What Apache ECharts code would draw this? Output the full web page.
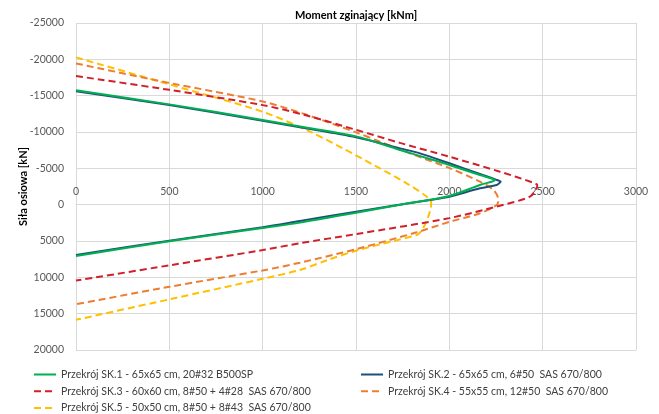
<!DOCTYPE html>
<html>
<head>
<meta charset="utf-8">
<script src="https://cdn.jsdelivr.net/npm/echarts@6/dist/echarts.min.js"></script>
<style>html,body{margin:0;padding:0;background:#fff}#c{width:659px;height:414px}</style>
</head>
<body>
<div id="c"></div>
<script>
// Moment [kNm] / axial force [kN]
const names = [
  'Przekrój SK.1 - 65x65 cm, 20#32 B500SP',
  'Przekrój SK.2 - 65x65 cm, 6#50  SAS 670/800',
  'Przekrój SK.3 - 60x60 cm, 8#50 + 4#28  SAS 670/800',
  'Przekrój SK.4 - 55x55 cm, 12#50  SAS 670/800',
  'Przekrój SK.5 - 50x50 cm, 8#50 + 8#43  SAS 670/800'
];
const sk1M = [0, 500, 1000, 1200, 1500, 1736, 1900, 2000, 2164, 2227, 2245, 2227, 2164, 2000, 1736, 1500, 1200, 1000, 500, 0];
const sk1N = [-15750, -13800, -11650, -10750, -9400, -7520, -6250, -5460, -4080, -3600, -3350, -3160, -2710, -1200, 0, 1100, 2470, 3200, 5050, 7050];
const sk2M = [0, 500, 1000, 1200, 1500, 1736, 1843, 2000, 2164, 2250, 2275, 2265, 2254, 2164, 2000, 1896, 1500, 1200, 1000, 500, 0];
const sk2N = [-15600, -13710, -11550, -10640, -9270, -7750, -7060, -5690, -4220, -3450, -3150, -2900, -2710, -2250, -1100, -650, 960, 2250, 3110, 4950, 6920];
const sk3M = [0, 500, 1000, 1232, 1500, 1736, 2000, 2271, 2449, 2471, 2468, 2432, 2254, 2000, 1500, 1200, 1000, 500, 0];
const sk3N = [-17700, -15800, -13700, -12300, -10300, -8500, -6600, -4540, -3030, -2700, -2250, -1100, 250, 1850, 4050, 5300, 6250, 8350, 10450];
const sk4M = [0, 500, 1000, 1232, 1500, 1629, 1789, 2004, 2164, 2236, 2263, 2254, 2164, 2004, 1825, 1504, 1200, 1000, 500, 0];
const sk4N = [-19440, -16750, -14200, -12400, -9950, -8660, -7060, -5000, -3160, -2020, -650, 40, 1190, 2340, 3800, 6100, 7980, 9050, 11300, 13700];
const sk5M = [0, 500, 1000, 1254, 1430, 1611, 1771, 1879, 1903, 1900, 1885, 1860, 1830, 1700, 1504, 1350, 1200, 1000, 500, 0];
const sk5N = [-20270, -16550, -12790, -10040, -7750, -5230, -2940, -1100, -300, 500, 1800, 3200, 4100, 5000, 6300, 7600, 8980, 10200, 13030, 15850];
const xTicks = { min: 0, max: 3000, step: 500 };
const yTicks = { min: -25000, max: 20000, step: 5000 };

const colors = ['#00B050', '#1F4E79', '#D0202A', '#ED7D31', '#FFC000'];
const Ms = [sk1M, sk2M, sk3M, sk4M, sk5M];
const Ns = [sk1N, sk2N, sk3N, sk4N, sk5N];
const dashed = [false, false, true, true, true];
const FONT = 'Lato';

const series = names.map((n, i) => ({
  name: n,
  type: 'line',
  data: Ms[i].map((m, k) => [m, Ns[i][k]]),
  smooth: 0.3,
  symbol: 'none',
  z: 10 - i,
  lineStyle: { color: colors[i], width: 2, type: dashed[i] ? [7, 4] : 'solid' },
  itemStyle: { color: colors[i] }
}));

const legendCommon = {
  orient: 'vertical',
  padding: 0,
  itemWidth: 22,
  itemHeight: 12,
  itemGap: 5.7,
  height: 60,
  itemStyle: { opacity: 0 },
  textStyle: { fontFamily: FONT, fontSize: 10.5, color: '#404040' },
  selectedMode: false
};

const plain = v => String(v);

const chart = echarts.init(document.getElementById('c'));
chart.setOption({
  animation: false,
  color: colors,
  title: {
    text: 'Moment zginający [kNm]',
    left: 351, top: 5, textAlign: 'center',
    textStyle: { fontFamily: FONT, fontSize: 11, fontWeight: 'bold', color: '#000' }
  },
  grid: { left: 76, right: 23, top: 23, bottom: 64, containLabel: false },
  xAxis: {
    type: 'value', min: xTicks.min, max: xTicks.max, interval: xTicks.step,
    position: 'top',
    axisLine: { show: true, onZero: false, lineStyle: { color: '#d9d9d9', width: 1 } },
    axisTick: { show: false },
    axisLabel: { margin: 8, fontFamily: FONT, fontSize: 10.5, color: '#595959', formatter: plain },
    splitLine: { show: true, lineStyle: { color: '#d9d9d9', width: 1 } }
  },
  yAxis: {
    type: 'value', inverse: true, min: yTicks.min, max: yTicks.max, interval: yTicks.step,
    name: 'Siła osiowa [kN]', nameLocation: 'middle', nameGap: 47, nameMoveOverlap: false,
    nameTextStyle: { fontFamily: FONT, fontSize: 11, fontWeight: 'bold', color: '#000' },
    axisLine: { show: false, onZero: false },
    axisTick: { show: false },
    axisLabel: { margin: 12, fontFamily: FONT, fontSize: 10.5, color: '#595959', formatter: plain },
    splitLine: { show: true, lineStyle: { color: '#d9d9d9', width: 1 } }
  },
  legend: [
    Object.assign({}, legendCommon, { left: 33, top: 369, data: [names[0], names[2], names[4]] }),
    Object.assign({}, legendCommon, { left: 360, top: 369, data: [names[1], names[3]] })
  ],
  series: series
});
// place the moment axis on N = 0 (horizontal axis crosses at zero)
const yTopPx = chart.convertToPixel({ yAxisIndex: 0 }, yTicks.min);
const yZeroPx = chart.convertToPixel({ yAxisIndex: 0 }, 0);
chart.setOption({ xAxis: { offset: -(yZeroPx - yTopPx) } });
</script>
</body>
</html>
